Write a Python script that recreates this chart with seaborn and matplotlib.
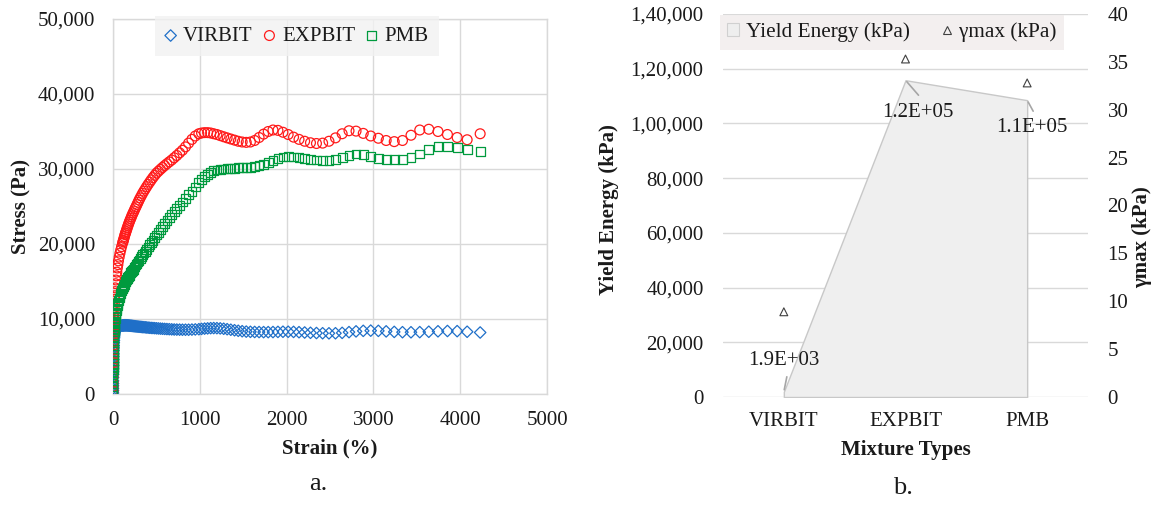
import matplotlib
matplotlib.use("Agg")
import matplotlib.pyplot as plt
from matplotlib.patches import Patch
from matplotlib.lines import Line2D
import seaborn as sns
import pandas as pd

sns.set_theme(style="white")
plt.rcParams["font.family"] = ["Liberation Serif", "DejaVu Serif"]

# ---------------- panel a: stress-strain data ----------------
strain = [0, 0.1, 0.2, 0.35, 0.5, 0.7, 1, 1.3, 1.6, 2,
          2.5, 3, 3.6, 4.3, 5, 6, 7, 8, 9.5, 11,
          13, 15, 17.5, 20, 23, 26, 30, 34, 39, 44,
          50, 56, 63, 71, 80, 89, 99,
          110, 115, 120, 126, 132, 138, 144, 150, 157, 164,
          171, 179, 187, 195, 204, 213, 222, 232, 242, 253,
          264, 276, 288, 300, 313, 327, 341, 356, 372, 388,
          405, 423, 441, 460, 480, 501, 523, 546, 570, 595,
          621, 648, 676, 705, 735, 767, 800, 835, 871, 909,
          948, 989,
          1020, 1055, 1090, 1125, 1160, 1197, 1235, 1275, 1315, 1357,
          1400, 1443, 1488, 1535, 1583, 1632, 1683, 1735, 1788, 1843,
          1900, 1958, 2018, 2080, 2143, 2208, 2275, 2344, 2415, 2488,
          2563, 2640, 2719, 2800, 2883, 2969, 3057, 3147, 3240, 3335,
          3433, 3534, 3638, 3744, 3853, 3965, 4080, 4230]

virbit = [150, 450, 750, 1100, 1400, 1750, 2200, 2600, 2950, 3350,
          3800, 4200, 4600, 5000, 5350, 5800, 6150, 6450, 6850, 7150,
          7500, 7750, 8000, 8200, 8400, 8550, 8700, 8800, 8880, 8940,
          8990, 9030, 9060, 9080, 9100, 9110, 9120,
          9130, 9140, 9150, 9150, 9160, 9160, 9160, 9160, 9150, 9150,
          9140, 9130, 9120, 9110, 9100, 9090, 9080, 9060, 9050, 9030,
          9020, 9000, 8990, 8970, 8960, 8940, 8920, 8910, 8890, 8870,
          8850, 8830, 8810, 8800, 8780, 8760, 8740, 8720, 8700, 8680,
          8660, 8640, 8620, 8600, 8590, 8580, 8570, 8570, 8570, 8590,
          8610, 8640,
          8680, 8720, 8750, 8780, 8790, 8780, 8750, 8700, 8640, 8570,
          8500, 8430, 8370, 8320, 8290, 8270, 8260, 8250, 8250, 8260,
          8280, 8300, 8300, 8280, 8240, 8200, 8160, 8130, 8100, 8090,
          8100, 8150, 8250, 8350, 8420, 8450, 8420, 8350, 8280, 8240,
          8230, 8250, 8300, 8360, 8400, 8380, 8300, 8200]

expbit = [400, 1000, 1600, 2300, 2900, 3500, 4200, 4800, 5300, 5900,
          6500, 7000, 7500, 8000, 8450, 9000, 9500, 9950, 10500, 11000,
          11550, 12050, 12600, 13100, 13650, 14150, 14700, 15200, 15750, 16250,
          16800, 17250, 17750, 18250, 18750, 19200, 19650,
          20100, 20300, 20500, 20750, 21000, 21250, 21450, 21650, 21900, 22150,
          22400, 22650, 22900, 23150, 23400, 23650, 23900, 24150, 24400, 24700,
          24950, 25250, 25550, 25850, 26150, 26450, 26750, 27050, 27350, 27650,
          27950, 28250, 28550, 28850, 29150, 29450, 29700, 29950, 30200, 30450,
          30700, 30950, 31200, 31500, 31800, 32150, 32500, 32950, 33450, 33950,
          34400, 34700,
          34800, 34850, 34850, 34800, 34700, 34600, 34450, 34300, 34150, 34000,
          33850, 33700, 33600, 33550, 33600, 33800, 34200, 34650, 35000, 35200,
          35150, 34900, 34600, 34250, 33950, 33700, 33500, 33400, 33450, 33700,
          34150, 34700, 35100, 35050, 34750, 34400, 34100, 33800, 33650, 33800,
          34500, 35200, 35300, 35000, 34600, 34200, 33900, 34700]

pmb = [200, 600, 1000, 1450, 1850, 2300, 2800, 3250, 3650, 4050,
       4500, 4900, 5300, 5700, 6000, 6450, 6800, 7150, 7550, 7900,
       8300, 8650, 9000, 9350, 9700, 10000, 10400, 10750, 11100, 11450,
       11800, 12100, 12450, 12800, 13150, 13450, 13750,
       14050, 14200, 14350, 14500, 14650, 14800, 14950, 15100, 15250, 15400,
       15550, 15700, 15850, 16000, 16150, 16300, 16450, 16650, 16850, 17050,
       17250, 17450, 17650, 17850, 18050, 18300, 18550, 18800, 19050, 19300,
       19600, 19900, 20200, 20500, 20850, 21200, 21550, 21950, 22350, 22750,
       23150, 23550, 23950, 24350, 24750, 25150, 25600, 26050, 26550, 27050,
       27600, 28150,
       28550, 28950, 29300, 29550, 29750, 29880, 29950, 30000, 30050, 30100,
       30100, 30150, 30150, 30200, 30250, 30350, 30500, 30650, 30900, 31150,
       31400, 31600, 31650, 31600, 31500, 31400, 31300, 31200, 31150, 31150,
       31250, 31500, 31800, 32000, 31900, 31650, 31450, 31300, 31250, 31300,
       31550, 32000, 32600, 32950, 33000, 32850, 32600, 32350]

series_names = ["VIRBIT", "EXPBIT", "PMB"]
x_ticks_a = [0, 1000, 2000, 3000, 4000, 5000]
y_ticks_a = [0, 10000, 20000, 30000, 40000, 50000]

# ---------------- panel b: yield energy and gamma max ----------------
mixtures = ["VIRBIT", "EXPBIT", "PMB"]
yield_energy = [1900, 115800, 108500]
gamma_max = [8.9, 35.3, 32.8]
y_ticks_b = [0, 20000, 40000, 60000, 80000, 100000, 120000, 140000]
y_tick_labels_b = ["0", "20,000", "40,000", "60,000", "80,000", "1,00,000",
                   "1,20,000", "1,40,000"]
y2_ticks_b = [0, 5, 10, 15, 20, 25, 30, 35, 40]

W, H = 1153, 507
fig = plt.figure(figsize=(W / 100, H / 100), dpi=100)
fig.patch.set_facecolor("white")

FS = 15
TXT = "#1a1a1a"
GRID = "#d9d9d9"

# ---------- panel a ----------
ax = fig.add_axes([113 / W, 1 - 394 / H, (547 - 113) / W, (394 - 19) / H])
styles = {
    "VIRBIT": dict(marker="D", color="#1f6fc8", s=34),
    "EXPBIT": dict(marker="o", color="#ff1a1a", s=50),
    "PMB": dict(marker="s", color="#009a3e", s=40),
}
values = {"VIRBIT": virbit, "EXPBIT": expbit, "PMB": pmb}
for name in series_names:
    st = styles[name]
    df = pd.DataFrame({"strain": strain, "stress": values[name]})
    sns.scatterplot(data=df, x="strain", y="stress", ax=ax, marker=st["marker"],
                    s=st["s"], facecolor="none", edgecolor=st["color"],
                    linewidth=0.9, label=name, zorder=3)

ax.set_xlim(0, 5000)
ax.set_ylim(0, 50000)
ax.set_xticks(x_ticks_a)
ax.set_yticks(y_ticks_a)
ax.set_xticklabels([str(v) for v in x_ticks_a])
ax.set_yticklabels([f"{v:,}" for v in y_ticks_a])
ax.grid(True, color=GRID, linewidth=1)
ax.set_axisbelow(True)
for sp in ax.spines.values():
    sp.set_color(GRID)
    sp.set_linewidth(1)
ax.tick_params(axis="both", length=0, labelsize=FS, colors=TXT)
ax.tick_params(axis="y", pad=13)
ax.tick_params(axis="x", pad=12)
ax.set_xlabel("Strain (%)", fontsize=FS, fontweight="bold", color=TXT)
ax.set_ylabel("Stress (Pa)", fontsize=FS, fontweight="bold", color=TXT)
ax.xaxis.set_label_coords(0.5, (394 - 448) / 375)
ax.xaxis.label.set_va("center")
ax.yaxis.set_label_coords((21 - 113) / 434, 0.5)
ax.yaxis.label.set_va("center")

leg = ax.legend(loc="upper left", bbox_to_anchor=(155 / W, 1 - 16 / H),
                bbox_transform=fig.transFigure, ncol=3, frameon=True,
                fontsize=FS, handlelength=0.5, handletextpad=0.35,
                columnspacing=0.55, borderpad=0.5, borderaxespad=0,
                fancybox=False, markerscale=1.0)
leg.get_frame().set_facecolor("#f2f2f2")
leg.get_frame().set_edgecolor("none")
for t in leg.get_texts():
    t.set_color(TXT)

fig.text(318 / W, 1 - 484 / H, "a.", fontsize=19, ha="center", va="center", color=TXT)

# ---------- panel b ----------
bx = fig.add_axes([723 / W, 1 - 397 / H, (1088 - 723) / W, (397 - 14) / H])
bx.fill_between(mixtures, yield_energy, 0, facecolor="#efefef", edgecolor="#c8c8c8",
                linewidth=1, zorder=2)
bx.set_xlim(-0.5, 2.5)
bx.set_ylim(0, 140000)
bx.set_yticks(y_ticks_b)
bx.set_yticklabels(y_tick_labels_b)
bx.grid(True, axis="y", color=GRID, linewidth=1, zorder=0)
bx.grid(False, axis="x")
bx.set_axisbelow(True)
for sp in bx.spines.values():
    sp.set_visible(False)
bx.tick_params(axis="both", length=0, labelsize=FS, colors=TXT)
bx.tick_params(axis="y", pad=14)
bx.tick_params(axis="x", pad=11)
bx.set_xlabel("Mixture Types", fontsize=FS, fontweight="bold", color=TXT)
bx.set_ylabel("Yield Energy (kPa)", fontsize=FS, fontweight="bold", color=TXT)
bx.xaxis.set_label_coords(0.5, (397 - 450) / 383)
bx.xaxis.label.set_va("center")
bx.yaxis.set_label_coords((609 - 723) / 365, 0.49)
bx.yaxis.label.set_va("center")

# data labels with leader lines
label_offsets = [((3, 15), (0, 31)), ((13, -15), (12, -32)), ((6, -11), (5, -27))]
for i, (cat, val) in enumerate(zip(mixtures, yield_energy)):
    (lx, ly), (tx, ty) = label_offsets[i]
    bx.annotate("", xy=(i, val), xytext=(lx * 0.72, ly * 0.72), textcoords="offset points",
                arrowprops=dict(arrowstyle="-", color="#a6a6a6", lw=1.2,
                                shrinkA=0, shrinkB=1.5), zorder=4)
    bx.annotate(f"{val:.1E}", xy=(i, val), xytext=(tx * 0.72, ty * 0.72),
                textcoords="offset points", ha="center", va="center",
                fontsize=FS, color=TXT, zorder=5)

bx2 = bx.twinx()
gdf = pd.DataFrame({"mix": [0, 1, 2], "gmax": gamma_max})
sns.scatterplot(data=gdf, x="mix", y="gmax", ax=bx2, marker="^", s=32,
                facecolor="none", edgecolor="#404040", linewidth=0.8, zorder=5)
bx2.set_ylim(0, 40)
bx2.set_xlim(-0.5, 2.5)
bx2.set_yticks(y2_ticks_b)
bx2.set_yticklabels([str(v) for v in y2_ticks_b])
for sp in bx2.spines.values():
    sp.set_visible(False)
bx2.tick_params(axis="both", length=0, labelsize=FS, colors=TXT)
bx2.tick_params(axis="y", pad=14)
bx2.set_ylabel("γmax (kPa)", fontsize=FS, fontweight="bold", color=TXT)
bx2.yaxis.set_label_coords((1142 - 723) / 365, (397 - 237) / 383)
bx2.yaxis.label.set_va("center")
bx2.yaxis.label.set_rotation(90)
bx2.set_xlabel("")
bx.set_xticks([0, 1, 2])
bx.set_xticklabels(mixtures)

handles = [Patch(facecolor="#eeeeee", edgecolor="#d0d0d0", linewidth=0.8),
           Line2D([], [], linestyle="none", marker="^", markersize=5.5,
                  markerfacecolor="none", markeredgecolor="#404040", markeredgewidth=0.8)]
leg2 = bx2.legend(handles, ["Yield Energy (kPa)", "γmax (kPa)"], loc="upper left",
                  bbox_to_anchor=(720 / W, 1 - 15 / H), bbox_transform=fig.transFigure,
                  ncol=2, frameon=True, fontsize=15.3, handlelength=0.55,
                  handleheight=0.55, handletextpad=0.3, columnspacing=1.5,
                  borderpad=0.35, borderaxespad=0, fancybox=False)
leg2.get_frame().set_facecolor("#f0ecec")
leg2.get_frame().set_edgecolor("none")
for t in leg2.get_texts():
    t.set_color(TXT)

fig.text(903 / W, 1 - 488 / H, "b.", fontsize=19, ha="center", va="center", color=TXT)

fig.savefig("out.png", dpi=100, facecolor="white")
